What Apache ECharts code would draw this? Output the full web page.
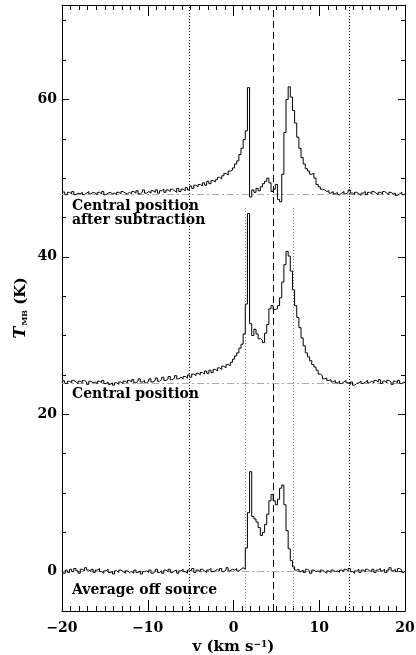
<!DOCTYPE html>
<html>
<head>
<meta charset="utf-8">
<script src="https://cdn.jsdelivr.net/npm/echarts@6/dist/echarts.min.js"></script>
<style>
  html, body { margin: 0; padding: 0; background: #fff; }
  #chart { width: 416px; height: 655px; }
</style>
</head>
<body>
<div id="chart"></div>
<script>
// channel velocities (km/s)
const velocities = [
  -20, -19.75, -19.5, -19.25, -19, -18.75, -18.5, -18.25,
  -18, -17.75, -17.5, -17.25, -17, -16.75, -16.5, -16.25,
  -16, -15.75, -15.5, -15.25, -15, -14.75, -14.5, -14.25,
  -14, -13.75, -13.5, -13.25, -13, -12.75, -12.5, -12.25,
  -12, -11.75, -11.5, -11.25, -11, -10.75, -10.5, -10.25,
  -10, -9.75, -9.5, -9.25, -9, -8.75, -8.5, -8.25,
  -8, -7.75, -7.5, -7.25, -7, -6.75, -6.5, -6.25,
  -6, -5.75, -5.5, -5.25, -5, -4.75, -4.5, -4.25,
  -4, -3.75, -3.5, -3.25, -3, -2.75, -2.5, -2.25,
  -2, -1.75, -1.5, -1.25, -1, -0.75, -0.5, -0.25,
  0, 0.25, 0.5, 0.75, 1, 1.25, 1.5, 1.75,
  2, 2.25, 2.5, 2.75, 3, 3.25, 3.5, 3.75,
  4, 4.25, 4.5, 4.75, 5, 5.25, 5.5, 5.75,
  6, 6.25, 6.5, 6.75, 7, 7.25, 7.5, 7.75,
  8, 8.25, 8.5, 8.75, 9, 9.25, 9.5, 9.75,
  10, 10.25, 10.5, 10.75, 11, 11.25, 11.5, 11.75,
  12, 12.25, 12.5, 12.75, 13, 13.25, 13.5, 13.75,
  14, 14.25, 14.5, 14.75, 15, 15.25, 15.5, 15.75,
  16, 16.25, 16.5, 16.75, 17, 17.25, 17.5, 17.75,
  18, 18.25, 18.5, 18.75, 19, 19.25, 19.5, 19.75,
  20
];

// Average off source (offset 0 K)
const offSource = [
  0.1, -0.2, 0.2, -0.1, 0.3, 0.0, 0.4, 0.1,
  -0.2, 0.3, 0.1, 0.5, 0.2, 0.0, 0.3, -0.1,
  0.2, 0.4, 0.0, -0.2, 0.1, 0.3, -0.1, 0.0,
  -0.3, 0.1, -0.1, 0.2, 0.0, -0.2, 0.1, -0.1,
  0.0, -0.2, 0.2, -0.1, 0.1, -0.3, 0.0, 0.1,
  -0.1, 0.2, -0.2, 0.0, 0.3, -0.1, 0.1, -0.2,
  0.2, 0.0, 0.3, -0.1, 0.1, 0.2, -0.2, 0.1,
  0.3, 0.0, -0.2, 0.2, 0.1, 0.4, -0.1, 0.2,
  0.0, 0.3, 0.1, -0.1, 0.2, 0.4, 0.0, 0.1,
  0.3, 0.1, 0.4, 0.0, 0.2, 0.5, 0.1, 0.3,
  0.2, 0.4, 0.1, 0.3, 0.5, 0.3, 3.0, 7.5,
  12.7, 7.0, 6.7, 6.3, 5.6, 4.6, 5.0, 6.0,
  7.3, 9.0, 9.8, 9.0, 8.5, 9.2, 10.6, 11.0,
  8.5, 5.2, 2.9, 1.4, 0.6, 0.2, 0.3, 0.0,
  0.2, -0.1, 0.3, 0.1, -0.2, 0.2, 0.0, 0.1,
  -0.1, 0.2, 0.0, -0.2, 0.1, -0.1, 0.2, 0.0,
  0.1, -0.1, 0.2, 0.0, 0.3, 0.1, 0.4, 0.0,
  -0.2, 0.1, 0.3, -0.1, 0.2, 0.0, 0.3, 0.1,
  0.0, 0.3, -0.1, 0.2, 0.4, 0.1, 0.3, -0.1,
  0.2, 0.5, 0.1, 0.3, 0.0, 0.4, 0.2, -0.1,
  0.1
];

// Central position (offset 24 K)
const centralPos = [
  24.1, 24.3, 23.9, 24.2, 24.0, 24.3, 24.1, 23.9,
  24.2, 24.0, 24.3, 24.1, 23.8, 24.2, 24.0, 24.1,
  23.9, 24.2, 24.0, 24.3, 23.9, 24.1, 23.8, 24.0,
  23.7, 24.0, 23.8, 24.1, 23.9, 24.2, 24.0, 24.3,
  24.1, 24.4, 24.0, 24.2, 24.5, 24.1, 24.3, 24.0,
  24.2, 24.5, 24.1, 24.3, 24.6, 24.2, 24.4, 24.7,
  24.3, 24.5, 24.8, 24.4, 24.6, 24.9, 24.5, 24.7,
  24.5, 24.8, 24.6, 25.0, 24.7, 25.1, 24.9, 25.2,
  25.0, 25.3, 25.1, 25.5, 25.2, 25.6, 25.3, 25.7,
  25.5, 25.9, 25.7, 26.1, 25.9, 26.3, 26.2, 26.6,
  27.0, 27.4, 27.8, 28.4, 28.9, 30.2, 34.0, 45.5,
  31.5, 30.0, 30.8, 30.2, 29.6, 29.4, 29.1, 30.3,
  31.4, 33.4, 33.8, 33.3, 33.4, 33.8, 34.8, 36.8,
  39.0, 40.7, 40.1, 38.2, 35.8, 33.8, 32.3, 31.0,
  29.7, 28.7, 27.8, 27.3, 26.8, 26.3, 26.0, 25.6,
  25.1, 24.9, 24.5, 24.6, 24.3, 24.4, 24.1, 24.3,
  24.0, 24.2, 23.9, 24.1, 24.3, 24.0, 23.8, 24.1,
  23.7, 23.9, 24.0, 24.2, 23.9, 24.1, 24.3, 24.0,
  24.2, 24.0, 24.3, 24.1, 24.4, 23.9, 24.2, 24.0,
  24.3, 24.1, 23.8, 24.2, 24.0, 24.3, 23.9, 24.1,
  24.0
];

// Central position after subtraction (offset 48 K)
const afterSub = [
  48.1, 48.3, 47.9, 48.2, 48.0, 48.3, 47.9, 48.1,
  48.0, 48.2, 47.9, 48.1, 48.3, 48.0, 48.2, 48.1,
  47.9, 48.2, 48.0, 48.3, 47.9, 48.1, 48.2, 48.0,
  48.1, 47.9, 48.2, 48.0, 48.3, 48.1, 48.0, 48.2,
  48.0, 48.3, 48.1, 48.4, 48.0, 48.2, 48.5, 48.1,
  48.3, 48.1, 48.4, 48.2, 48.5, 48.1, 48.4, 48.6,
  48.2, 48.5, 48.3, 48.6, 48.4, 48.2, 48.7, 48.3,
  48.6, 48.4, 48.8, 48.5, 49.0, 48.7, 49.1, 48.9,
  49.2, 49.0, 49.4, 49.1, 49.6, 49.3, 49.7, 49.5,
  49.8, 50.1, 49.9, 50.3, 50.6, 50.4, 50.9, 51.0,
  51.3, 51.8, 52.2, 53.0, 53.8, 54.9, 56.0, 61.5,
  47.6, 48.5, 48.2, 48.7, 48.4, 48.9, 49.3, 49.6,
  50.0, 49.4, 48.3, 48.6, 49.2, 47.3, 47.0, 50.5,
  55.8, 60.0, 61.6, 60.3, 58.6, 57.0, 55.2, 53.8,
  52.6, 51.8, 51.2, 50.9, 50.5, 50.6, 50.0, 49.2,
  48.9, 48.6, 48.5, 48.3, 48.4, 48.1, 48.3, 48.0,
  48.2, 47.9, 48.1, 48.3, 48.0, 48.2, 48.5, 48.1,
  47.9, 48.2, 48.0, 47.8, 48.1, 48.3, 47.9, 48.2,
  48.0, 48.3, 48.1, 47.9, 48.2, 48.0, 48.3, 48.1,
  47.9, 48.2, 48.0, 48.1, 47.8, 48.0, 48.2, 47.9,
  48.0
];

const baselines = [0, 24, 48];
const dottedFull = [-5.15, 13.5];     // black dotted, full height
const dottedInner = [1.42, 7.02];     // grey dotted, lower part only
const dottedInnerTop = 46.5;
const systemicV = 4.62;               // dashed line
const yMajor = [0, 20, 40, 60];
const spectrumLabels = [
  { text: 'Central position', y: 205 },
  { text: 'after subtraction', y: 219 },
  { text: 'Central position', y: 393 },
  { text: 'Average off source', y: 589 }
];

const FONT = '"DejaVu Serif", "Liberation Serif", serif';
const chart = echarts.init(document.getElementById('chart'));

const pairs = arr => velocities.map((v, i) => [v, arr[i]]);

const markLines = [];
dottedFull.forEach(v => markLines.push({ xAxis: v, lineStyle: { color: '#000', type: [1, 2], width: 1 } }));
dottedInner.forEach(v => markLines.push([
  { coord: [v, -5], lineStyle: { color: '#888', type: [1, 2], width: 1 } },
  { coord: [v, dottedInnerTop] }
]));
markLines.push({ xAxis: systemicV, lineStyle: { color: '#000', type: [7, 4], width: 1 } });
baselines.forEach(b => markLines.push({ yAxis: b, lineStyle: { color: '#aaa', type: [7, 3, 2, 3], width: 1 } }));

const blackLine = { color: '#000' };
const yBase = { type: 'value', min: -5, max: 72, splitLine: { show: false } };

chart.setOption({
  animation: false,
  backgroundColor: '#fff',
  grid: { left: 62, right: 11, top: 5, bottom: 44, outerBoundsMode: 'none', containLabel: false },
  xAxis: [
    {
      type: 'value', min: -20, max: 20, interval: 10, position: 'bottom',
      axisLine: { onZero: false, lineStyle: blackLine },
      axisTick: { inside: true, length: 11, lineStyle: blackLine },
      minorTick: { show: true, splitNumber: 10, length: 5, lineStyle: blackLine },
      splitLine: { show: false },
      axisLabel: {
        color: '#000', fontFamily: FONT, fontSize: 14, fontWeight: 'bold', margin: 10,
        formatter: v => (v < 0 ? '\u2212' + (-v) : String(v))
      },
      name: 'v (km s{sup|\u22121})',
      nameLocation: 'middle', nameGap: 28,
      nameTextStyle: {
        color: '#000', fontFamily: FONT, fontSize: 15, fontWeight: 'bold',
        rich: { sup: { fontFamily: FONT, fontSize: 9, fontWeight: 'bold', color: '#000', verticalAlign: 'top', padding: [0, 0, 6, 0] } }
      }
    },
    {
      type: 'value', min: -20, max: 20, interval: 10, position: 'top',
      axisLine: { onZero: false, lineStyle: blackLine },
      axisTick: { inside: true, length: 11, lineStyle: blackLine },
      minorTick: { show: true, splitNumber: 10, length: 5, lineStyle: blackLine },
      splitLine: { show: false },
      axisLabel: { show: false }
    }
  ],
  yAxis: [
    Object.assign({}, yBase, {
      position: 'left', interval: 5,
      axisLine: { show: true, onZero: false, lineStyle: blackLine },
      axisTick: { inside: true, length: 4, lineStyle: blackLine },
      axisLabel: { show: false },
      name: '{i|T}{s|MB} (K)', nameLocation: 'middle', nameGap: 33, nameRotate: 90,
      nameTextStyle: {
        color: '#000', fontFamily: FONT, fontSize: 15, fontWeight: 'bold',
        rich: {
          i: { fontFamily: FONT, fontSize: 16, fontStyle: 'italic', fontWeight: 'bold', color: '#000' },
          s: { fontFamily: FONT, fontSize: 8, fontWeight: 'bold', color: '#000', verticalAlign: 'bottom', padding: [6, 0, 0, 1] }
        }
      }
    }),
    Object.assign({}, yBase, {
      position: 'left',
      axisLine: { show: false, onZero: false },
      axisTick: { show: true, inside: true, length: 7, customValues: yMajor, lineStyle: blackLine },
      axisLabel: { color: '#000', fontFamily: FONT, fontSize: 14, fontWeight: 'bold', margin: 5, customValues: yMajor }
    }),
    Object.assign({}, yBase, {
      position: 'right', interval: 5,
      axisLine: { show: true, onZero: false, lineStyle: blackLine },
      axisTick: { inside: true, length: 4, lineStyle: blackLine },
      axisLabel: { show: false }
    }),
    Object.assign({}, yBase, {
      position: 'right',
      axisLine: { show: false, onZero: false },
      axisTick: { show: true, inside: true, length: 7, customValues: yMajor, lineStyle: blackLine },
      axisLabel: { show: false }
    })
  ],
  graphic: spectrumLabels.map(l => ({
    type: 'text', left: 72, top: l.y - 6, z: 100,
    style: { text: l.text, font: 'bold 14px ' + FONT, fill: '#000' }
  })),
  series: [
    {
      type: 'line', data: [], xAxisIndex: 0, yAxisIndex: 0,
      markLine: { silent: true, symbol: ['none', 'none'], label: { show: false }, data: markLines }
    },
    {
      type: 'line', step: 'middle', data: pairs(offSource), showSymbol: false, symbol: 'none',
      lineStyle: { color: '#000', width: 1 }, z: 5
    },
    {
      type: 'line', step: 'middle', data: pairs(centralPos), showSymbol: false, symbol: 'none',
      lineStyle: { color: '#000', width: 1 }, z: 5
    },
    {
      type: 'line', step: 'middle', data: pairs(afterSub), showSymbol: false, symbol: 'none',
      lineStyle: { color: '#000', width: 1 }, z: 5
    }
  ]
});
</script>
</body>
</html>
